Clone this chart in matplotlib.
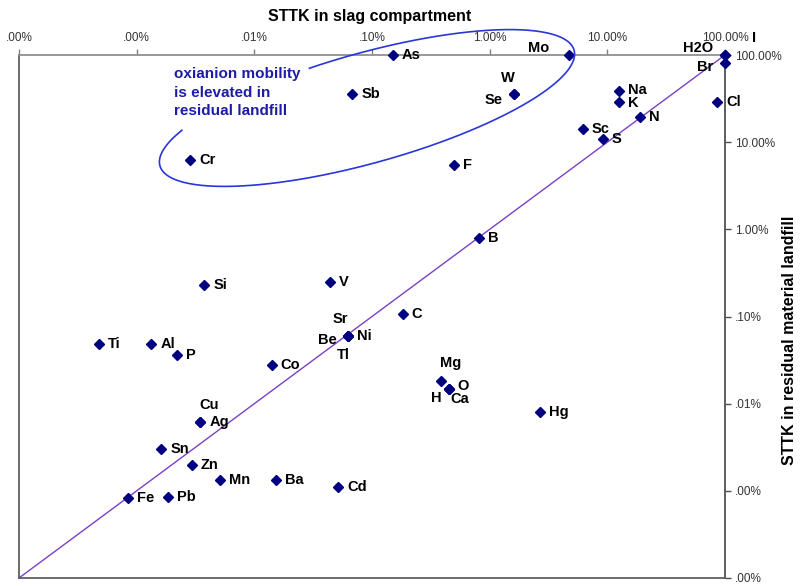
import numpy as np
import matplotlib
matplotlib.use("Agg")
import matplotlib.pyplot as plt

plt.rcParams["font.family"] = ["Liberation Sans", "DejaVu Sans"]

# STTK fractions per element: slag compartment (x) vs residual material landfill (y)
elements = ["H2O", "I", "Br", "As", "Mo", "Sb", "W", "Se", "Na", "K", "Cl", "N",
            "Sc", "S", "Cr", "F", "B", "Si", "V", "C", "Ti", "Al", "P", "Ni",
            "Sr", "Be", "Tl", "Co", "Mg", "O", "H", "Ca", "Hg", "Cu", "Ag",
            "Sn", "Zn", "Mn", "Ba", "Cd", "Fe", "Pb"]
sttk_slag = [1.0, 1.0, 1.0, 1.5e-3, 0.047, 6.8e-4, 0.016, 0.016, 0.125, 0.125,
             0.855, 0.189, 0.062, 0.092, 2.85e-5, 5.0e-3, 8.1e-3, 3.75e-5,
             4.4e-4, 1.82e-3, 4.8e-6, 1.33e-5, 2.2e-5, 6.3e-4, 6.3e-4, 6.3e-4,
             6.3e-4, 1.4e-4, 3.83e-3, 4.48e-3, 4.48e-3, 4.48e-3, 0.0267,
             3.47e-5, 3.47e-5, 1.62e-5, 2.96e-5, 5.14e-5, 1.54e-4, 5.19e-4,
             8.5e-6, 1.85e-5]
sttk_landfill = [1.0, 1.0, 0.81, 1.0, 1.0, 0.356, 0.356, 0.356, 0.385, 0.288,
                 0.288, 0.194, 0.141, 0.108, 0.062, 0.054, 7.9e-3, 2.27e-3,
                 2.46e-3, 1.08e-3, 4.9e-4, 4.9e-4, 3.66e-4, 5.9e-4, 5.9e-4,
                 5.9e-4, 5.9e-4, 2.8e-4, 1.84e-4, 1.49e-4, 1.49e-4, 1.49e-4,
                 8.1e-5, 6.2e-5, 6.2e-5, 3.04e-5, 1.99e-5, 1.34e-5, 1.34e-5,
                 1.11e-5, 8.3e-6, 8.5e-6]

tick_values = [1e-6, 1e-5, 1e-4, 1e-3, 1e-2, 1e-1, 1.0]
tick_labels = [".00%", ".00%", ".01%", ".10%", "1.00%", "10.00%", "100.00%"]

x_title = "STTK in slag compartment"
y_title = "STTK in residual material landfill"
note = "oxianion mobility\nis elevated in\nresidual landfill"

# label placement (pixel offsets from the marker, horizontal alignment)
label_offsets = {
    "H2O": (-12, 7, "right"), "I": (27, 17, "left"), "Br": (-12, -4, "right"),
    "Mo": (-20, 7, "right"), "W": (-6, 16, "center"), "Se": (-11, -6, "right"),
    "Na": (9, 1, "left"), "K": (9, -1, "left"),
    "Sr": (-8, 17, "center"), "Be": (-12, -4, "right"), "Tl": (-5, -19, "center"),
    "Mg": (10, 18, "center"), "O": (9, 3, "left"), "H": (-12, -9, "center"),
    "Ca": (2, -10, "left"), "Cu": (9, 17, "center"),
}
default_offset = (9, 0, "left")

W_PX, H_PX = 803, 586
fig = plt.figure(figsize=(W_PX / 100, H_PX / 100), dpi=100)
fig.patch.set_facecolor("white")

left, right, top, bottom = 19, 725, 55, 578
ax = fig.add_axes([left / W_PX, 1 - bottom / H_PX,
                   (right - left) / W_PX, (bottom - top) / H_PX])
ax.set_xscale("log")
ax.set_yscale("log")
lims = [tick_values[0], tick_values[-1]]
ax.set_xlim(lims)
ax.set_ylim(lims)

# 1:1 reference line
ax.plot(lims, lims, color="#7B3FC8", lw=1.0, zorder=2)

ax.plot(sttk_slag, sttk_landfill, linestyle="none", marker="D", ms=5.5,
        color="#000080", clip_on=False, zorder=4)

for name, xv, yv in zip(elements, sttk_slag, sttk_landfill):
    dx, dy, ha = label_offsets.get(name, default_offset)
    ax.annotate(name, (xv, yv), xytext=(dx, dy), textcoords="offset pixels",
                ha=ha, va="center", fontsize=10.5, fontweight="bold",
                color="black", annotation_clip=False, zorder=5)

# axes styling: x axis on top, y axis on the right
ax.xaxis.tick_top()
ax.yaxis.tick_right()
ax.set_xticks(tick_values)
ax.set_xticklabels(tick_labels)
ax.set_yticks(tick_values)
ax.set_yticklabels(tick_labels)
ax.minorticks_off()
ax.tick_params(axis="x", which="major", direction="out", length=4, width=1,
               color="#808080", labelsize=8.5, labelcolor="#333333", pad=4)
ax.tick_params(axis="y", which="major", direction="out", length=4, width=1,
               color="#505050", labelsize=8.5, labelcolor="#333333", pad=3)
for side, col in [("top", "#909090"), ("right", "#505050"),
                  ("left", "#606060"), ("bottom", "#606060")]:
    ax.spines[side].set_color(col)
    ax.spines[side].set_linewidth(1.3)

fig.text(370 / W_PX, 1 - 16 / H_PX, x_title, ha="center", va="center",
         fontsize=11.5, fontweight="bold")
fig.text(790 / W_PX, 1 - 340 / H_PX, y_title, ha="center", va="center",
         rotation=90, fontsize=11.5, fontweight="bold")

# annotation text and the open loop around the oxyanion elements
fig.text(174 / W_PX, 1 - 67 / H_PX, note, ha="left", va="top", fontsize=11,
         fontweight="bold", color="#1C1CA8", linespacing=1.42)

cx, cy, a, b, ang = 367, 108, 215, 55, np.deg2rad(15.6)
t = np.deg2rad(np.linspace(258, 571, 300))
ux, uy = np.cos(ang), -np.sin(ang)
vx, vy = np.sin(ang), np.cos(ang)
px = cx + a * np.cos(t) * ux + b * np.sin(t) * vx
py = cy + a * np.cos(t) * uy + b * np.sin(t) * vy
fig.add_artist(plt.Line2D(px / W_PX, 1 - py / H_PX, transform=fig.transFigure,
                          color="#2A36D8", lw=1.2))

fig.savefig("out.png", dpi=100)
